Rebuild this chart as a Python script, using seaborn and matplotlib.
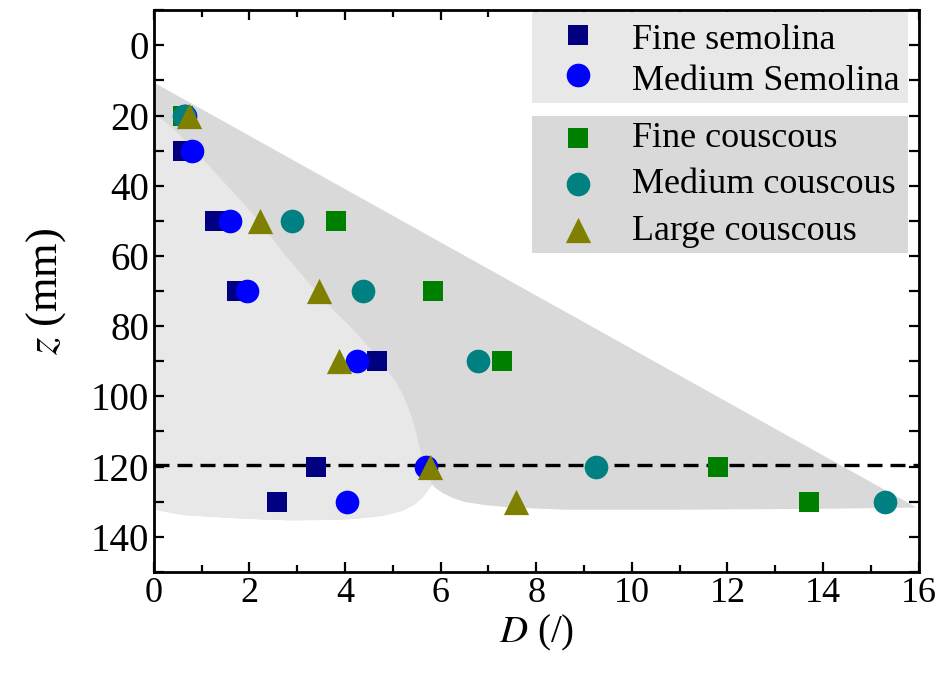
import numpy as np
import pandas as pd
import seaborn as sns
import matplotlib.pyplot as plt
from matplotlib.ticker import MultipleLocator

# data
z_levels = [20, 30, 50, 70, 90, 120, 130]
fine_semolina = [0.60, 0.60, 1.28, 1.74, 4.66, 3.40, 2.58]
medium_semolina = [0.65, 0.79, 1.59, 1.94, 4.25, 5.70, 4.03]
z_cous = [20, 50, 70, 90, 120, 130]
fine_couscous = [0.61, 3.82, 5.84, 7.29, 11.81, 13.70]
medium_couscous = [0.63, 2.88, 4.37, 6.79, 9.25, 15.29]
large_couscous = [0.73, 2.22, 3.45, 3.88, 5.77, 7.57]
z_line = 119.5

# shaded zones (x, z outline)
dark_x = [-0.08, 15.96, 14.2, 11.0, 8.63, 7.4, 6.89, 6.5, 6.26, 6.05, 5.9, 5.82,
          5.74, 5.62, 5.45, 5.2, 4.79, 4.2, 3.75, 2.8, 2.0, 1.2, 0.6, -0.08]
dark_z = [10, 131.7, 132.0, 132.3, 132.3, 131.6, 130.9, 130.1, 129.0, 127.6, 126.2, 125.1,
          126.6, 128.8, 130.8, 132.6, 134.0, 134.9, 135.2, 135.3, 134.9, 134.3, 133.8, 132.0]
light_x = [-0.08, 0.5, 1.0, 1.6, 2.2, 2.7, 3.2, 3.65, 4.1, 4.5, 4.79, 5.05, 5.21, 5.33, 5.42,
           5.5, 5.56, 5.64, 5.71, 5.77, 5.82,
           5.74, 5.62, 5.45, 5.2, 4.79, 4.2, 3.75, 2.8, 2.0, 1.2, 0.6, -0.08]
light_z = [18, 25, 32, 41, 50, 59, 67, 74, 80, 86, 90.9, 95.5, 99.5, 103.5, 107,
           111, 114.9, 118.3, 121.4, 123.5, 125.1,
           126.6, 128.8, 130.8, 132.6, 134.0, 134.9, 135.2, 135.3, 134.9, 134.3, 133.8, 132.0]

sns.set_style('ticks', {'axes.edgecolor': 'black', 'text.color': 'black',
                        'xtick.color': 'black', 'ytick.color': 'black',
                        'axes.labelcolor': 'black'})
plt.rcParams['font.family'] = ['Liberation Serif', 'DejaVu Serif']
plt.rcParams['mathtext.fontset'] = 'stix'

fig, ax = plt.subplots(figsize=(9.5, 6.8), dpi=100)
fig.subplots_adjust(left=0.162, right=0.967, top=0.985, bottom=0.159)

ax.fill(dark_x, dark_z, color='#d9d9d9', lw=0, zorder=0)
ax.fill(light_x, light_z, color='#e8e8e8', lw=0, zorder=0)

sns.scatterplot(x=fine_semolina, y=z_levels, marker='s', s=210, color='#000080', linewidth=0, label='Fine semolina', ax=ax, zorder=3)
sns.scatterplot(x=medium_semolina, y=z_levels, marker='o', s=290, color='#0000ff', linewidth=0, label='Medium Semolina', ax=ax, zorder=3)
sns.scatterplot(x=fine_couscous, y=z_cous, marker='s', s=210, color='#008000', linewidth=0, label='Fine couscous', ax=ax, zorder=3)
sns.scatterplot(x=medium_couscous, y=z_cous, marker='o', s=290, color='#008080', linewidth=0, label='Medium couscous', ax=ax, zorder=3)
sns.scatterplot(x=large_couscous, y=z_cous, marker='^', s=330, color='#808000', linewidth=0, label='Large couscous', ax=ax, zorder=3)

ax.axhline(z_line, color='black', lw=2.4, dashes=(4.5, 2.4), zorder=2)

ax.set_xlim(0, 16)
ax.set_ylim(150, -10)
ax.xaxis.set_major_locator(MultipleLocator(2))
ax.xaxis.set_minor_locator(MultipleLocator(1))
ax.yaxis.set_major_locator(MultipleLocator(20))
ax.yaxis.set_minor_locator(MultipleLocator(10))
ax.tick_params(which='both', direction='in', top=True, right=True, width=1.6, colors='black')
ax.tick_params(axis='x', labelsize=26)
ax.tick_params(axis='y', labelsize=28)
ax.tick_params(which='major', length=7)
ax.tick_params(which='minor', length=5)
ax.tick_params(axis='y', which='minor', length=7)
for sp in ax.spines.values():
    sp.set_linewidth(2)
    sp.set_color('black')
    sp.set_visible(True)

ax.set_xlabel('$D$ (/)', fontsize=28, labelpad=2, color='black')
ax.set_ylabel('$z$ (mm)', fontsize=32, labelpad=16, color='black')

handles, labels = ax.get_legend_handles_labels()
leg1 = ax.legend(handles[:2], labels[:2], loc='upper left', bbox_to_anchor=(0.495, 0.829, 0.491, 0.167),
                 mode='expand', fontsize=26, frameon=True, fancybox=False, framealpha=1,
                 facecolor='#e8e8e8', edgecolor='none', borderaxespad=0, labelspacing=0.04,
                 handleheight=1.25, handletextpad=0.4, borderpad=0.15, handlelength=2.2,
                 labelcolor='black')
ax.add_artist(leg1)
ax.legend(handles[2:], labels[2:], loc='upper left', bbox_to_anchor=(0.495, 0.573, 0.491, 0.238),
          mode='expand', fontsize=26, frameon=True, fancybox=False, framealpha=1,
          facecolor='#d9d9d9', edgecolor='none', borderaxespad=0, labelspacing=0.36,
          handletextpad=0.4, borderpad=0.15, handlelength=2.2, labelcolor='black')

fig.savefig('out.png', dpi=100)
